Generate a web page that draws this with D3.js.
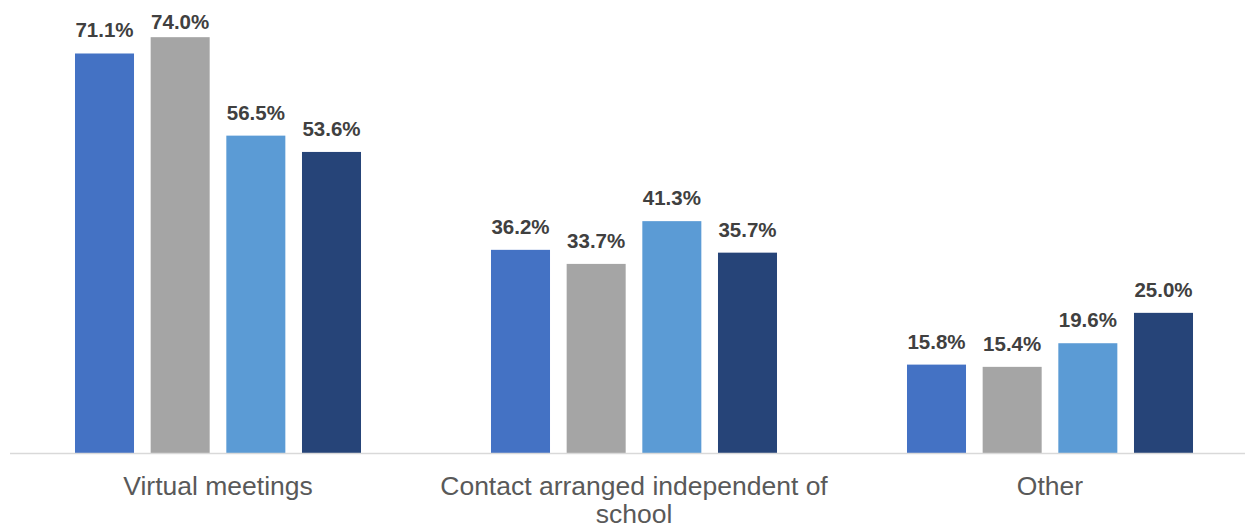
<!DOCTYPE html>
<html>
<head>
<meta charset="utf-8">
<script src="https://cdn.jsdelivr.net/npm/d3@7"></script>
<style>
  html, body { margin: 0; padding: 0; background: #fff; }
  svg { display: block; }
</style>
</head>
<body>
<svg id="chart" width="1245" height="528"></svg>
<script>
// Contact methods by group, share of respondents (%)
const categories = ["Virtual meetings", "Contact arranged independent of school", "Other"];
const seriesKeys = ["s1", "s2", "s3", "s4"];
const seriesColors = ["#4472C4", "#A5A5A5", "#5B9BD5", "#264478"];
const series1 = [71.1, 36.2, 15.8];
const series2 = [74.0, 33.7, 15.4];
const series3 = [56.5, 41.3, 19.6];
const series4 = [53.6, 35.7, 25.0];
const seriesValues = [series1, series2, series3, series4];

const svg = d3.select("#chart");
const width = 1245, height = 528;
const baseline = 453.5;

const x0 = d3.scaleBand()
  .domain(categories)
  .range([10, 1258])
  .paddingInner(0)
  .paddingOuter(0);

const x1 = d3.scaleBand()
  .domain(seriesKeys)
  .range([0, x0.bandwidth()])
  .paddingInner(0.22)
  .paddingOuter(0.859);

const y = d3.scaleLinear()
  .domain([0, 80])
  .range([baseline, baseline - 80 * 5.626]);

const color = d3.scaleOrdinal().domain(seriesKeys).range(seriesColors);

const rows = categories.map((c, i) => ({
  category: c,
  values: seriesKeys.map((k, j) => ({ key: k, value: seriesValues[j][i] }))
}));

const groups = svg.append("g")
  .selectAll("g")
  .data(rows)
  .join("g")
  .attr("transform", d => `translate(${x0(d.category)},0)`);

groups.selectAll("rect")
  .data(d => d.values)
  .join("rect")
  .attr("x", d => x1(d.key))
  .attr("y", d => y(d.value))
  .attr("width", x1.bandwidth())
  .attr("height", d => y(0) - y(d.value))
  .attr("fill", d => color(d.key));

// Value labels sit above each bar, kept inside the top edge of the plot
groups.selectAll("text.value")
  .data(d => d.values)
  .join("text")
  .attr("class", "value")
  .attr("x", d => x1(d.key) + x1.bandwidth() / 2)
  .attr("y", d => Math.max(y(d.value) - 16, 28.5))
  .attr("text-anchor", "middle")
  .attr("font-family", "'Liberation Sans', Arial, sans-serif")
  .attr("font-weight", "bold")
  .attr("font-size", "20.5px")
  .attr("fill", "#404040")
  .text(d => d.value.toFixed(1) + "%");

// Category axis: baseline rule and wrapped labels
const xAxis = d3.axisBottom(x0).tickSize(0).tickPadding(0);
const axisG = svg.append("g")
  .attr("transform", `translate(0,${baseline})`)
  .call(xAxis);

axisG.select(".domain")
  .attr("d", `M${x0.range()[0]},0H${width}`)
  .attr("stroke", "#D9D9D9")
  .attr("stroke-width", 1.5);

axisG.selectAll(".tick text")
  .attr("font-family", "'Liberation Sans', Arial, sans-serif")
  .attr("font-size", "26.5px")
  .attr("fill", "#595959")
  .attr("dy", null)
  .attr("y", 41.5)
  .each(function(d) {
    const text = d3.select(this);
    const words = d.split(/\s+/);
    const maxW = x0.bandwidth() - 10;
    text.text(null);
    let line = [];
    let tspan = text.append("tspan").attr("x", 0).attr("y", 41.5);
    let lineNo = 0;
    words.forEach(w => {
      line.push(w);
      tspan.text(line.join(" "));
      if (tspan.node().getComputedTextLength() > maxW && line.length > 1) {
        line.pop();
        tspan.text(line.join(" "));
        line = [w];
        lineNo++;
        tspan = text.append("tspan").attr("x", 0).attr("y", 41.5 + lineNo * 27.5).text(w);
      }
    });
  });
</script>
</body>
</html>
